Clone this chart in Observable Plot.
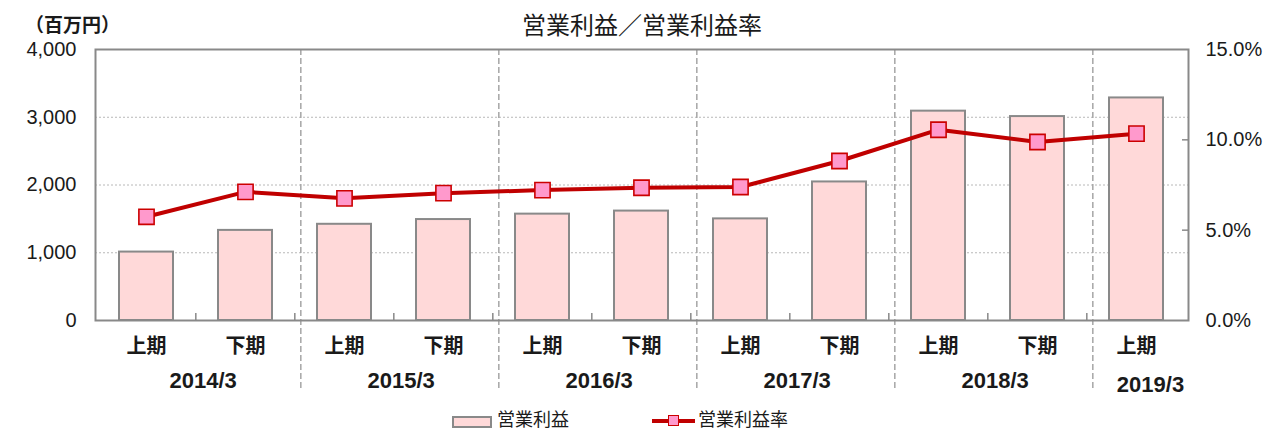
<!DOCTYPE html>
<html><head><meta charset="utf-8">
<script src="https://cdn.jsdelivr.net/npm/d3@7"></script>
<script src="https://cdn.jsdelivr.net/npm/@observablehq/plot@0.6"></script>
<style>
body{margin:0;background:#fff;}
#wrap{position:relative;width:1273px;height:430px;font-family:"Liberation Sans","Noto Sans CJK JP",sans-serif;color:#1a1a1a;}
.abs{position:absolute;white-space:nowrap;line-height:1;}
</style></head><body><div id="wrap"></div>
<script>
// ---- data ----
const fiscalYears = ["2014/3","2014/3","2015/3","2015/3","2016/3","2016/3","2017/3","2017/3","2018/3","2018/3","2019/3"];
const halves = ["上期","下期","上期","下期","上期","下期","上期","下期","上期","下期","上期"];
const operatingProfit = [1010, 1330, 1420, 1490, 1570, 1615, 1500, 2045, 3090, 3010, 3285]; // 百万円
const operatingMargin = [5.74, 7.12, 6.76, 7.05, 7.22, 7.35, 7.39, 8.83, 10.56, 9.88, 10.34]; // %
const leftTicks = [0, 1000, 2000, 3000, 4000];
const rightTicks = [0, 5, 10, 15];
const titleText = "営業利益／営業利益率";
const unitText = "（百万円）";
const legendLabels = ["営業利益", "営業利益率"];

// ---- layout ----
const W = 1273, H = 430, mL = 95, mR = 85, mT = 49, mB = 110;
const step = (W - mL - mR) / halves.length;
const yMax = 4000, pctMax = 15, k = yMax / pctMax; // secondary axis mapping

const rows = halves.map((h, i) => ({id: fiscalYears[i] + "-" + h, year: fiscalYears[i], half: h, profit: operatingProfit[i], margin: operatingMargin[i]}));
const ids = rows.map(d => d.id);
const years = [...new Set(fiscalYears)].map(y => {
  const r = rows.filter(d => d.year === y);
  return {year: y, first: r[0].id, n: r.length};
});

const chart = Plot.plot({
  width: W, height: H, marginLeft: mL, marginRight: mR, marginTop: mT, marginBottom: mB,
  style: {fontFamily: '"Liberation Sans","Noto Sans CJK JP",sans-serif', fontSize: "20px", color: "#1a1a1a", background: "white", overflow: "visible"},
  x: {domain: ids, type: "band", paddingInner: 0.45, paddingOuter: 0.225},
  y: {domain: [0, yMax]},
  marks: [
    Plot.ruleY(leftTicks.slice(1, -1), {stroke: "#b8b8b8", strokeWidth: 1, strokeDasharray: "2,2"}),
    Plot.barY(rows, {x: "id", y: "profit", fill: "#ffd9d9", stroke: "#898989", strokeWidth: 2}),
    Plot.ruleX(ids.slice(1), {y1: 0, y2: 0, insetTop: -7, dx: -step / 2, stroke: "#898989", strokeWidth: 1.5}),
    Plot.ruleX(years.slice(1).map(d => d.first), {dx: -step / 2 + 6, insetBottom: -69, stroke: "#a6a6a6", strokeWidth: 1.5, strokeDasharray: "6,3"}),
    Plot.ruleY(rightTicks.slice(1, -1).map(p => p * k), {insetLeft: W - mL - mR - 6, stroke: "#898989", strokeWidth: 1.5}),
    Plot.frame({stroke: "#898989", strokeWidth: 2}),
    Plot.axisY(leftTicks, {anchor: "left", tickSize: 0, tickPadding: 19, tickFormat: d3.format(","), fontSize: 20, label: null}),
    Plot.axisY(rightTicks.map(p => p * k), {anchor: "right", tickSize: 0, tickPadding: 17, tickFormat: v => (v / k).toFixed(1) + "%", fontSize: 20, label: null}),
    Plot.axisX(ids, {anchor: "bottom", tickSize: 0, tickFormat: id => id.split("-")[1], fontSize: 20, fontWeight: "bold", tickPadding: 18, fontFamily: '"Noto Sans CJK JP",sans-serif', label: null}),
    Plot.text(years.filter(d => d.n > 1), {x: "first", text: "year", frameAnchor: "bottom", dy: 60, dx: step / 2 + 7, fontSize: 22, fontWeight: "bold", lineAnchor: "middle"}),
    Plot.text(years.filter(d => d.n === 1), {x: "first", text: "year", frameAnchor: "bottom", dy: 64, dx: 14, fontSize: 22, fontWeight: "bold", lineAnchor: "middle"}),
    Plot.line(rows, {x: "id", y: d => d.margin * k, stroke: "#c00000", strokeWidth: 4}),
    Plot.dot(rows, {x: "id", y: d => d.margin * k, symbol: "square", r: 8.6, fill: "#ff99cc", stroke: "#cc0000", strokeWidth: 1.6})
  ]
});

const wrap = document.getElementById("wrap");
wrap.appendChild(chart);

function addDiv(html, css) {
  const d = document.createElement("div");
  d.className = "abs";
  d.innerHTML = html;
  Object.assign(d.style, css);
  wrap.appendChild(d);
  return d;
}
// title
addDiv(titleText, {left: "0px", width: W + "px", top: "12px", textAlign: "center", fontSize: "24px", fontFamily: '"Noto Sans CJK JP",sans-serif', paddingLeft: "11px", boxSizing: "border-box"});
// unit label
addDiv(unitText, {left: "25px", top: "14px", fontSize: "19px", fontWeight: "bold", fontFamily: '"Noto Sans CJK JP",sans-serif'});
// legend
addDiv("", {left: "452px", top: "416px", width: "40px", height: "12px", background: "#ffd9d9", border: "2px solid #898989", boxSizing: "border-box"});
addDiv(legendLabels[0], {left: "497px", top: "409px", fontSize: "18px", fontFamily: '"Noto Sans CJK JP",sans-serif'});
addDiv("", {left: "652px", top: "419px", width: "43px", height: "4px", background: "#c00000"});
addDiv("", {left: "668px", top: "415px", width: "11px", height: "11px", background: "#ff99cc", border: "1.5px solid #cc0000", boxSizing: "border-box"});
addDiv(legendLabels[1], {left: "698px", top: "409px", fontSize: "18px", fontFamily: '"Noto Sans CJK JP",sans-serif'});
</script>
</body></html>
